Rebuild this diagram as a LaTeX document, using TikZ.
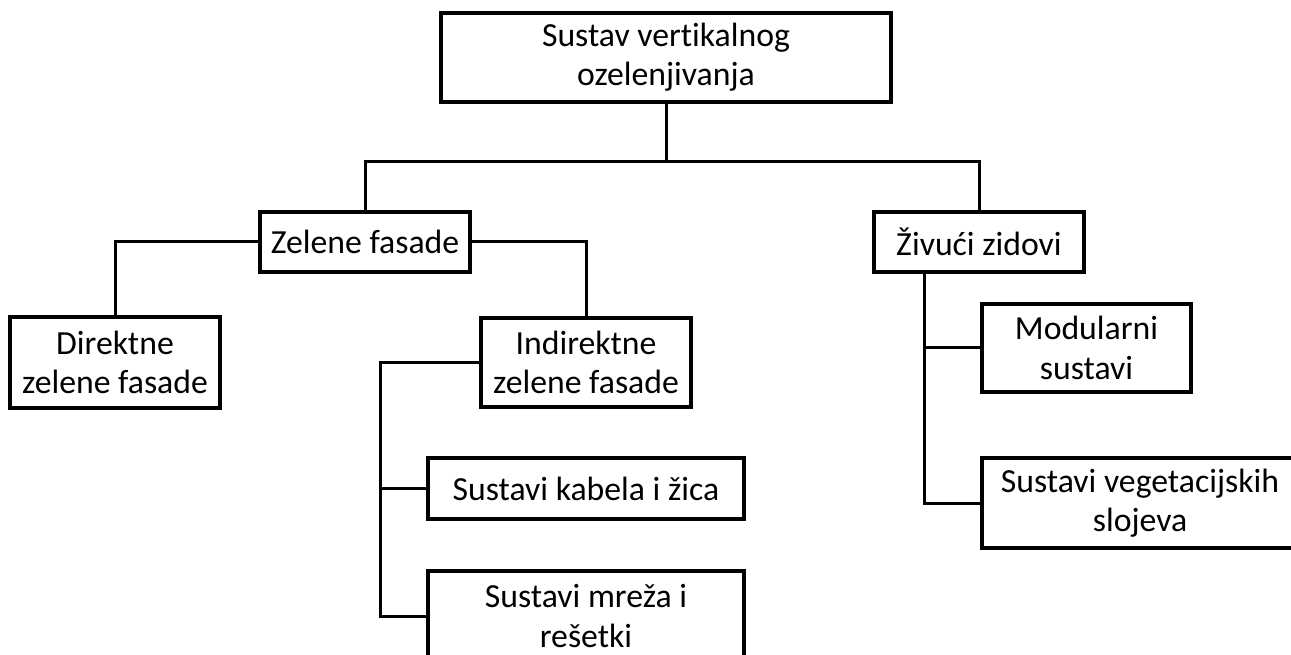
\documentclass[tikz,border=0pt]{standalone}
\usepackage{fontspec}
\setmainfont{Carlito}[Ligatures=NoCommon]
\begin{document}
\begin{tikzpicture}[x=0.75pt,y=-0.75pt,
    box/.style={draw, line width=2.4pt, align=center, inner sep=0pt,
        font=\fontsize{25.3}{29.5}\selectfont},
    link/.style={line width=2.25pt}]
    \useasboundingbox (0,0) rectangle (1291,655);

    % boxes
    \node[box, minimum width=337.5pt, minimum height=66.75pt] (sustav) at (666,57.5) {Sustav vertikalnog\\ozelenjivanja};
    \node[box, minimum width=157.5pt, minimum height=45pt] (zelene) at (365,242) {Zelene fasade};
    \node[box, minimum width=157.5pt, minimum height=45pt] (zivuci) at (979,242) {Živući zidovi};
    \node[box, minimum width=157.5pt, minimum height=68.25pt] (direktne) at (115,362.5) {Direktne\\zelene fasade};
    \node[box, minimum width=157.5pt, minimum height=66.75pt] (indirektne) at (586,362.5) {Indirektne\\zelene fasade};
    \node[box, minimum width=237pt, minimum height=45.75pt] (kabeli) at (586,488.5) {Sustavi kabela i žica};
    \node[box, minimum width=237pt, minimum height=67.5pt] (mreze) at (586,616) {Sustavi mreža i\\rešetki};
    \node[box, minimum width=156.75pt, minimum height=66pt] (moduli) at (1086.5,348) {Modularni\\sustavi};
    \node[box, minimum width=237pt, minimum height=67.5pt] (slojevi) at (1140,503) {Sustavi vegetacijskih\\slojeva};

    % connectors
    \coordinate (hub) at (sustav.south |- 0,162);
    \coordinate (indtrunk) at (380,362.5);
    \coordinate (zivtrunk) at (924,272);
    \draw[link] (sustav.south) -- (hub);
    \draw[link] (zelene.north) |- (hub) -| (zivuci.north);
    \draw[link] (zelene.west) -| (direktne.north);
    \draw[link] (zelene.east) -| (indirektne.north);
    \draw[link] (indirektne.west) -- (indtrunk) |- (mreze.west);
    \draw[link] (kabeli.west) -- (kabeli.west -| indtrunk);
    \draw[link] (zivtrunk) |- (slojevi.west);
    \draw[link] (moduli.west) -- (moduli.west -| zivtrunk);
\end{tikzpicture}
\end{document}
